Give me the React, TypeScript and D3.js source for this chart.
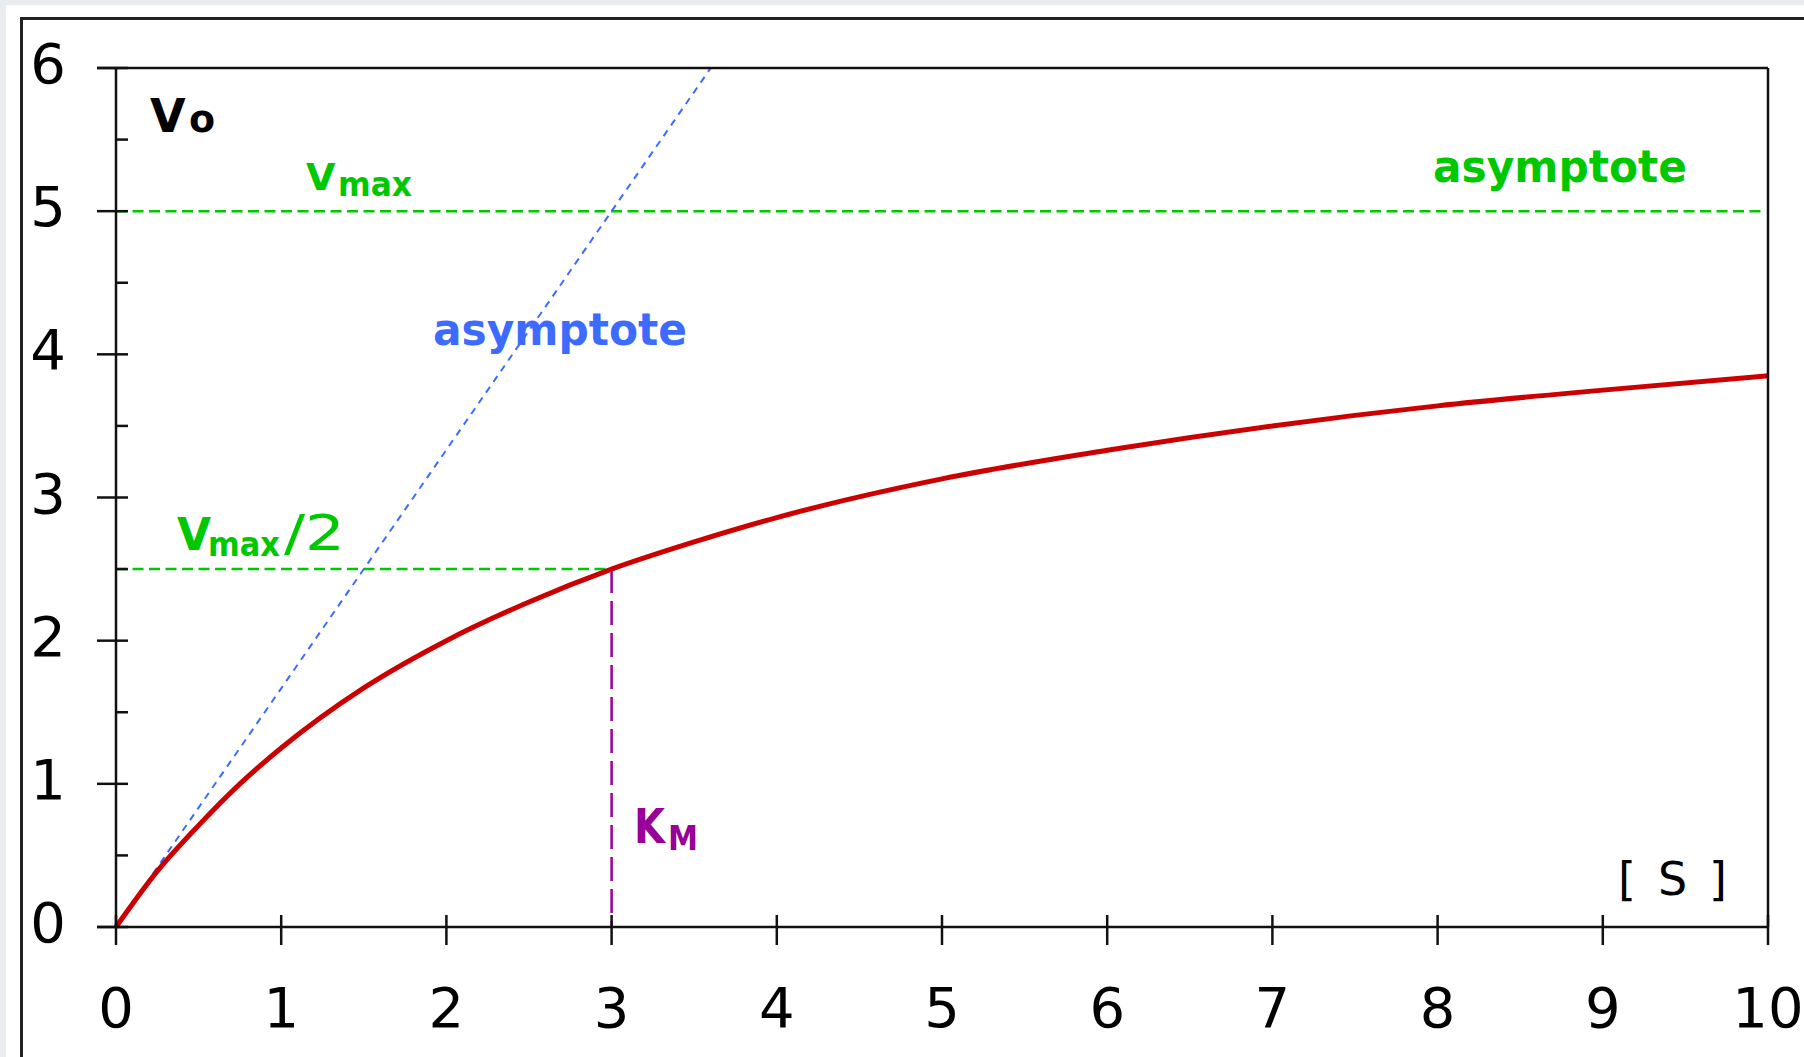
import React from "react";
import * as d3 from "d3";

// Michaelis–Menten saturation curve: substrate [S] vs initial velocity v0
const substrate = [0, 0.25, 0.5, 0.75, 1, 1.5, 2, 2.5, 3, 3.5, 4, 5, 6, 7, 8, 9, 10];
const velocity = [0, 0.39, 0.71, 1.0, 1.25, 1.67, 2.0, 2.27, 2.5, 2.69, 2.86, 3.13, 3.33, 3.5, 3.64, 3.75, 3.85];

const vmax = 5;
const halfVmax = 2.5;
const km = 3;
// initial-slope asymptote, from the origin to where it leaves the plot
const tangentS = [0, 3.6];
const tangentV = [0, 6];

const xTicks = [0, 1, 2, 3, 4, 5, 6, 7, 8, 9, 10];
const yTicks = [0, 1, 2, 3, 4, 5, 6];
const yMinorTicks = [0.5, 1.5, 2.5, 3.5, 4.5, 5.5];

const W = 1804;
const H = 1057;
const L = 116, R = 1768, T = 68, B = 927;

export default function App() {
  const x = d3.scaleLinear().domain([0, 10]).range([L, R]);
  const y = d3.scaleLinear().domain([0, 6]).range([B, T]);

  const curve = d3
    .line<number>()
    .x((_, i) => x(substrate[i]))
    .y((v) => y(v))
    .curve(d3.curveMonotoneX)(velocity) as string;

  const tangent = d3
    .line<number>()
    .x((_, i) => x(tangentS[i]))
    .y((v) => y(v))(tangentV) as string;

  const axisColor = "#111";
  const green = "#00c800";
  const blue = "#3d6bff";
  const purple = "#990099";
  const red = "#cc0000";
  const sans = "'DejaVu Sans', 'Liberation Sans', sans-serif";

  return (
    <div style={{ position: "fixed", left: 0, top: 0 }}>
      <svg width={W} height={H} style={{ display: "block" }} fontFamily={sans}>
        <rect x={0} y={0} width={W} height={H} fill="#e8edf2" />
        <rect x={6} y={5} width={W} height={H} fill="#ffffff" />
        <rect x={21.5} y={18.5} width={W * 2} height={H * 2} fill="none" stroke="#222" strokeWidth={3} />

        {/* reference lines */}
        <line x1={x(0)} x2={x(10) - 6} y1={y(vmax)} y2={y(vmax)} stroke={green} strokeWidth={2.5} strokeDasharray="11 5.5" />
        <line x1={x(0)} x2={x(km)} y1={y(halfVmax)} y2={y(halfVmax)} stroke={green} strokeWidth={2.5} strokeDasharray="11 5.5" />
        <line x1={x(km)} x2={x(km)} y1={y(halfVmax)} y2={y(0)} stroke={purple} strokeWidth={2.5} strokeDasharray="24 8" />
        <path d={tangent} fill="none" stroke={blue} strokeWidth={2} strokeDasharray="7 6" />

        {/* saturation curve */}
        <path d={curve} fill="none" stroke={red} strokeWidth={5} strokeLinejoin="round" />

        {/* frame and axes */}
        <line x1={L - 19} x2={R} y1={T} y2={T} stroke={axisColor} strokeWidth={2.5} />
        <line x1={L} x2={L} y1={T} y2={B} stroke={axisColor} strokeWidth={2.5} />
        <line x1={R} x2={R} y1={T} y2={B} stroke={axisColor} strokeWidth={2.5} />
        <line x1={L - 19} x2={R} y1={B} y2={B} stroke={axisColor} strokeWidth={2.5} />

        {yTicks.map((t) => (
          <g key={"y" + t}>
            <line x1={L - 19} x2={L + 12} y1={y(t)} y2={y(t)} stroke={axisColor} strokeWidth={2.5} />
            <text x={48} y={y(t) + 15} fontSize={56} textAnchor="middle" fill="#000">
              {t}
            </text>
          </g>
        ))}
        {yMinorTicks.map((t) => (
          <line key={"ym" + t} x1={L} x2={L + 12} y1={y(t)} y2={y(t)} stroke={axisColor} strokeWidth={2.5} />
        ))}
        {xTicks.map((t) => (
          <g key={"x" + t}>
            <line x1={x(t)} x2={x(t)} y1={B - 12} y2={B + 18} stroke={axisColor} strokeWidth={2.5} />
            <text x={x(t)} y={1027} fontSize={56} textAnchor="middle" fill="#000">
              {t}
            </text>
          </g>
        ))}

        {/* axis titles */}
        <text x={150} y={132} fontSize={46} fontWeight="bold" fill="#000">
          V
        </text>
        <text x={189} y={132} fontSize={38} fontWeight="bold" fill="#000">
          o
        </text>
        <text x={1618} y={895} fontSize={46} fill="#000" textLength={109} lengthAdjust="spacing">
          [ S ]
        </text>

        {/* annotations */}
        <text x={306} y={190} fontSize={38} fontWeight="bold" fill={green}>
          V
        </text>
        <text x={338} y={196} fontSize={34} fontWeight="bold" fill={green} textLength={74} lengthAdjust="spacingAndGlyphs">
          max
        </text>
        <text x={1433} y={182} fontSize={44} fontWeight="bold" fill={green} textLength={254} lengthAdjust="spacingAndGlyphs">
          asymptote
        </text>

        <text x={177} y={550} fontSize={44} fontWeight="bold" fill={green}>
          V
        </text>
        <text x={208} y={556} fontSize={34} fontWeight="bold" fill={green} textLength={72} lengthAdjust="spacingAndGlyphs">
          max
        </text>
        <text x={284} y={550} fontSize={50} fill={green} textLength={61} lengthAdjust="spacingAndGlyphs">
          /2
        </text>

        <text x={433} y={345} fontSize={44} fontWeight="bold" fill={blue} textLength={254} lengthAdjust="spacingAndGlyphs">
          asymptote
        </text>

        <text x={634} y={843} fontSize={48} fontWeight="bold" fill={purple} textLength={31} lengthAdjust="spacingAndGlyphs">
          K
        </text>
        <text x={668} y={850} fontSize={34} fontWeight="bold" fill={purple} textLength={30} lengthAdjust="spacingAndGlyphs">
          M
        </text>
      </svg>
    </div>
  );
}
